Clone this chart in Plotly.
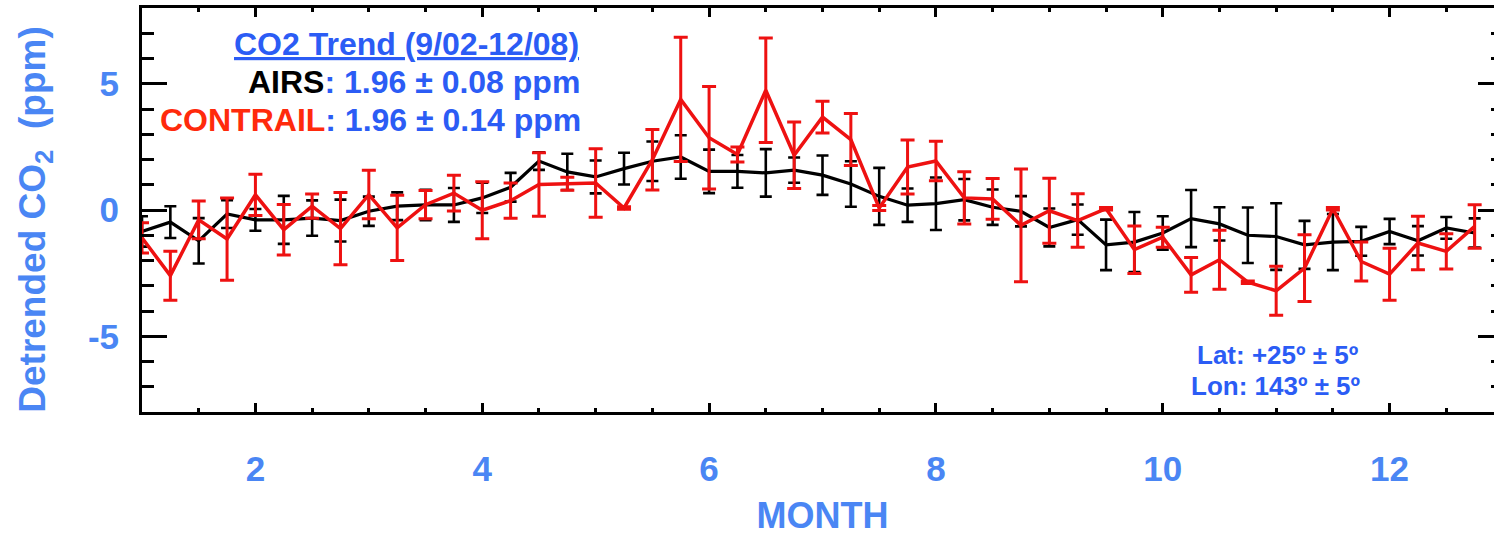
import plotly.graph_objects as go

months = [1.0, 1.25, 1.5, 1.75, 2.0, 2.25, 2.5, 2.75, 3.0, 3.25, 3.5, 3.75,
          4.0, 4.25, 4.5, 4.75, 5.0, 5.25, 5.5, 5.75, 6.0, 6.25, 6.5, 6.75,
          7.0, 7.25, 7.5, 7.75, 8.0, 8.25, 8.5, 8.75, 9.0, 9.25, 9.5, 9.75,
          10.0, 10.25, 10.5, 10.75, 11.0, 11.25, 11.5, 11.75, 12.0, 12.25, 12.5, 12.75]

airs = [-0.85, -0.48, -1.22, -0.16, -0.39, -0.39, -0.32, -0.42, -0.05, 0.15, 0.20, 0.20,
        0.48, 0.90, 1.94, 1.51, 1.31, 1.64, 1.93, 2.10, 1.53, 1.53, 1.47, 1.58,
        1.38, 1.03, 0.54, 0.19, 0.25, 0.41, 0.11, -0.05, -0.69, -0.38, -1.38, -1.27,
        -0.91, -0.34, -0.55, -1.00, -1.05, -1.38, -1.27, -1.24, -0.85, -1.22, -0.71, -0.91]
airs_err = [0.60, 0.63, 0.90, 0.55, 0.43, 0.95, 0.70, 0.83, 0.58, 0.55, 0.60, 0.67,
            0.60, 0.57, 0.35, 0.72, 0.65, 0.63, 0.78, 0.86, 0.86, 0.65, 0.94, 0.50,
            0.78, 0.90, 1.13, 0.66, 1.04, 0.82, 0.70, 0.60, 0.75, 0.60, 1.00, 1.19,
            0.66, 1.13, 0.66, 1.10, 1.32, 0.95, 1.11, 0.57, 0.50, 0.58, 0.43, 0.58]

contrail = [-1.10, -2.60, -0.39, -1.15, 0.60, -0.78, 0.15, -0.74, 0.61, -0.71, 0.21, 0.67,
            -0.01, 0.37, 1.01, 1.04, 1.07, 0.08, 1.99, 4.38, 2.86, 2.20, 4.74, 2.17,
            3.68, 2.79, 0.08, 1.70, 1.94, 0.48, 0.44, -0.61, -0.03, -0.42, 0.05, -1.57,
            -1.08, -2.57, -1.97, -2.86, -3.20, -2.30, 0.05, -2.04, -2.54, -1.31, -1.64, -0.65]
contrail_err = [0.60, 0.97, 0.75, 1.63, 0.82, 1.00, 0.48, 1.43, 0.96, 1.29, 0.56, 0.71,
                1.13, 0.70, 1.26, 0.26, 1.36, 0.05, 1.20, 2.46, 2.03, 0.30, 2.07, 1.32,
                0.63, 1.03, 0.10, 1.07, 0.78, 1.03, 0.81, 2.23, 1.29, 1.06, 0.05, 0.94,
                0.40, 0.69, 1.17, 0.05, 0.97, 1.32, 0.05, 0.77, 1.03, 1.06, 0.70, 0.86]

x_ticks = [2, 4, 6, 8, 10, 12]
y_ticks = [-5, 0, 5]

FONT = "Arial, Liberation Sans, sans-serif"
TICK_BLUE = "#4a86f4"
ANN_BLUE = "#2b5cf5"
RED = "#ee1111"
CONTRAIL_RED = "#ff2a0c"

fig = go.Figure()
fig.add_trace(go.Scatter(
    x=months, y=airs, mode="lines",
    line=dict(color="black", width=3.2),
    error_y=dict(type="data", array=airs_err, visible=True,
                 color="black", thickness=2.6, width=6),
    showlegend=False))
fig.add_trace(go.Scatter(
    x=months, y=contrail, mode="lines",
    line=dict(color=RED, width=3.5),
    error_y=dict(type="data", array=contrail_err, visible=True,
                 color=RED, thickness=3, width=7),
    showlegend=False))

W = 1510
L = 142
PW = 1364
fig.update_layout(
    width=W, height=536, autosize=False,
    margin=dict(l=L, r=W - L - PW, t=8, b=124, pad=0),
    paper_bgcolor="white", plot_bgcolor="white",
    font=dict(family=FONT),
    xaxis=dict(
        range=[1, 13], tickmode="array", tickvals=x_ticks,
        ticktext=[str(v) for v in x_ticks],
        showgrid=False, zeroline=False,
        showline=True, linecolor="black", linewidth=3, mirror="allticks",
        ticks="inside", ticklen=9, tickwidth=2.5, tickcolor="black",
        minor=dict(dtick=0.5, tick0=0, ticks="inside", ticklen=4, tickwidth=2.5,
                   tickcolor="black", showgrid=False),
        tickfont=dict(size=35, color=TICK_BLUE, family=FONT, weight="bold"),
        ticklabelstandoff=24,
        title=dict(text="MONTH", font=dict(size=36, color=TICK_BLUE, family=FONT, weight="bold"),
                   standoff=17),
    ),
    yaxis=dict(
        range=[-8, 8], tickmode="array", tickvals=y_ticks,
        ticktext=[str(v) for v in y_ticks],
        showgrid=False, zeroline=False,
        showline=True, linecolor="black", linewidth=3, mirror="allticks",
        ticks="inside", ticklen=25, tickwidth=3, tickcolor="black",
        minor=dict(dtick=1, tick0=0, ticks="inside", ticklen=12, tickwidth=3,
                   tickcolor="black", showgrid=False),
        tickfont=dict(size=35, color=TICK_BLUE, family=FONT, weight="bold"),
        ticklabelstandoff=13,
    ),
)

def px_x(p):
    return (p - L) / PW

def px_y(p):
    return (412.5 - p) / 404.0

anns = [
    ("<u>CO2 Trend (9/02-12/08)</u>", 582, 45, "right", 32),
    ("<span style='color:black'>AIRS</span>: 1.96 ± 0.08 ppm", 583, 82, "right", 32),
    (f"<span style='color:{CONTRAIL_RED}'>CONTRAIL</span>: 1.96 ± 0.14 ppm", 584, 120, "right", 32),
    ("Lat: +25º ± 5º", 1281, 355, "center", 26),
    ("Lon: 143º ± 5º", 1278, 386, "center", 26),
]
for text, ax, ay, anchor, size in anns:
    fig.add_annotation(
        text=text, xref="paper", yref="paper", x=px_x(ax), y=px_y(ay),
        xanchor=anchor, yanchor="middle", showarrow=False,
        font=dict(size=size, color=ANN_BLUE, family=FONT, weight="bold"))

# y-axis title as rotated annotation for exact placement
fig.add_annotation(
    text="Detrended CO<sub>2</sub>\u00a0 (ppm)", xref="paper", yref="paper",
    x=px_x(34), y=px_y(220), xanchor="center", yanchor="middle",
    textangle=-90, showarrow=False,
    font=dict(size=37, color=TICK_BLUE, family=FONT, weight="bold"))

fig.write_html("out.html", config={"displayModeBar": False},
               post_script="document.body.style.margin='0';document.body.style.overflow='hidden';")
